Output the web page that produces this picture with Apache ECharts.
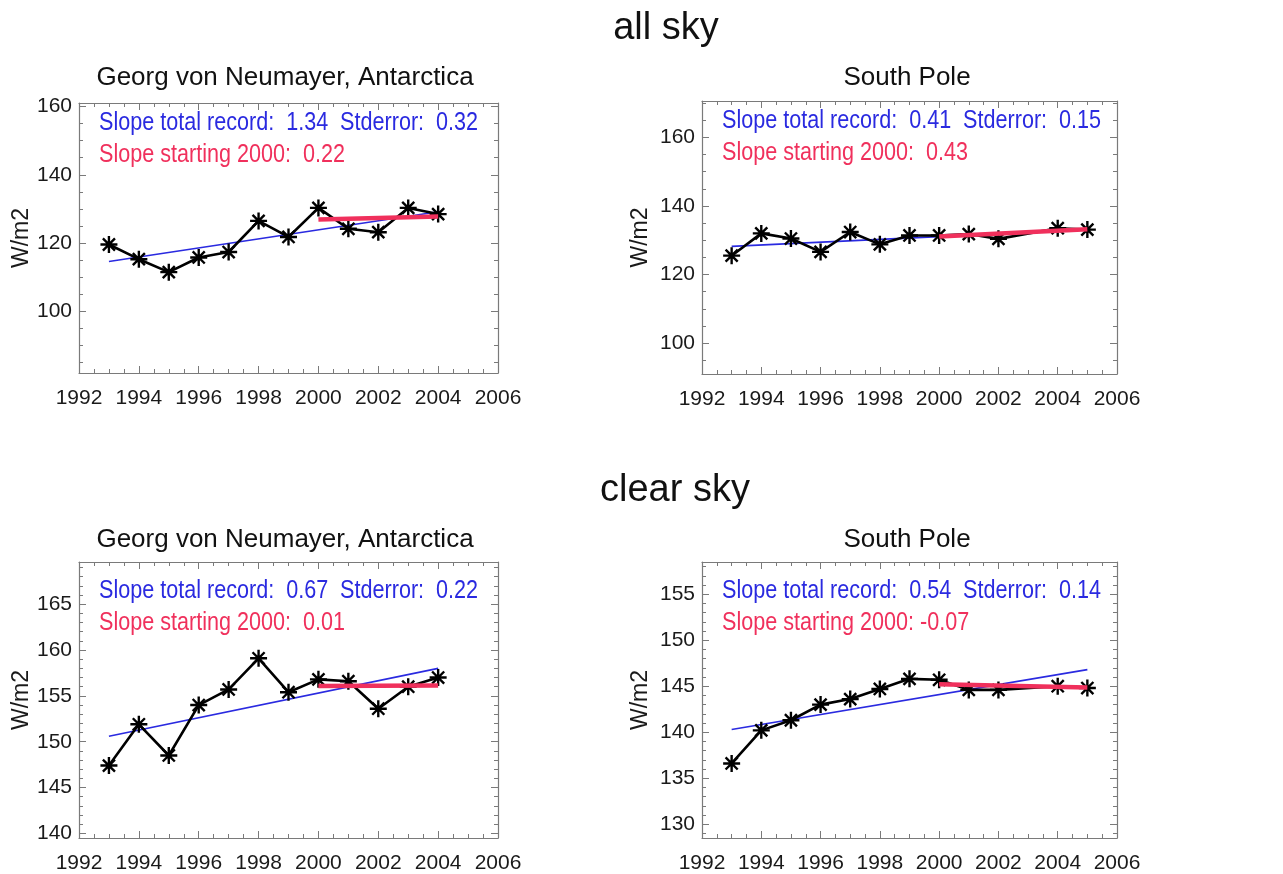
<!DOCTYPE html>
<html>
<head>
<meta charset="utf-8">
<title>all sky / clear sky</title>
<script src="https://cdn.jsdelivr.net/npm/echarts@6/dist/echarts.min.js"></script>
<style>
html, body { margin: 0; padding: 0; background: #fff; }
#chart { width: 1283px; height: 874px; }
</style>
</head>
<body>
<div id="chart"></div>
<script>
// years with data (South Pole has no 2003 value)
var gvnYears = [1993, 1994, 1995, 1996, 1997, 1998, 1999, 2000, 2001, 2002, 2003, 2004];
var spoYears = [1993, 1994, 1995, 1996, 1997, 1998, 1999, 2000, 2001, 2002, 2004, 2005];

// yearly means, W/m2
var gvnAllSky = [119.6, 115.3, 111.5, 115.8, 117.4, 126.5, 121.8, 130.3, 124.2, 123.2, 130.3, 128.5];
var spoAllSky = [125.5, 132.0, 130.5, 126.6, 132.4, 128.8, 131.4, 131.4, 131.8, 130.4, 133.5, 133.1];
var gvnClearSky = [147.4, 151.9, 148.5, 154.0, 155.7, 159.1, 155.4, 156.8, 156.6, 153.6, 156.0, 157.0];
var spoClearSky = [136.6, 140.2, 141.3, 143.0, 143.6, 144.7, 145.8, 145.7, 144.6, 144.6, 145.0, 144.8];

// fitted lines: [start, end] values
var gvnFitYears = [1993, 2004];
var spoFitYears = [1993, 2005];
var gvnFit2000Years = [2000, 2004];
var spoFit2000Years = [2000, 2005];
var gvnAllFit = [114.6, 129.2];
var gvnAllFit2000 = [126.9, 127.8];
var spoAllFit = [128.2, 133.1];
var spoAllFit2000 = [131.1, 133.2];
var gvnClearFit = [150.6, 158.0];
var gvnClearFit2000 = [156.08, 156.12];
var spoClearFit = [140.3, 146.8];
var spoClearFit2000 = [145.2, 144.85];

// tick labels
var allSkyTicks = [100, 120, 140, 160];
var clearGvnTicks = [140, 145, 150, 155, 160, 165];
var clearSpoTicks = [130, 135, 140, 145, 150, 155];

var slopeTexts = [
  ["Slope total record:  1.34  Stderror:  0.32", "Slope starting 2000:  0.22"],
  ["Slope total record:  0.41  Stderror:  0.15", "Slope starting 2000:  0.43"],
  ["Slope total record:  0.67  Stderror:  0.22", "Slope starting 2000:  0.01"],
  ["Slope total record:  0.54  Stderror:  0.14", "Slope starting 2000: -0.07"]
];

var FONT = "'Liberation Sans', Arial, Helvetica, sans-serif";
var BOX = "#7a7a7a";
var BLUE = "#2a2ae0";
var RED = "#f0305c";
var STAR = "path://M-1.4,-10L1.4,-10L1.4,10L-1.4,10Z M-10,-1.4L10,-1.4L10,1.4L-10,1.4Z M-8.1,-6.1L-6.1,-8.1L8.1,6.1L6.1,8.1Z M6.1,-8.1L8.1,-6.1L-6.1,8.1L-8.1,6.1Z";

var panels = [
  { grid: { left: 79, top: 103, width: 419, height: 270 }, yMin: 82, yMax: 161, ticks: allSkyTicks, minorStep: 5, nameGap: 45,
    years: gvnYears, vals: gvnAllSky, fitX: gvnFitYears, fit: gvnAllFit, fit2X: gvnFit2000Years, fit2: gvnAllFit2000 },
  { grid: { left: 702, top: 101, width: 415, height: 273 }, yMin: 91, yMax: 170.6, ticks: allSkyTicks, minorStep: 5, nameGap: 50,
    years: spoYears, vals: spoAllSky, fitX: spoFitYears, fit: spoAllFit, fit2X: spoFit2000Years, fit2: spoAllFit2000 },
  { grid: { left: 79, top: 562, width: 419, height: 276 }, yMin: 139.5, yMax: 169.6, ticks: clearGvnTicks, minorStep: 1, nameGap: 45,
    years: gvnYears, vals: gvnClearSky, fitX: gvnFitYears, fit: gvnClearFit, fit2X: gvnFit2000Years, fit2: gvnClearFit2000 },
  { grid: { left: 702, top: 562, width: 415, height: 276 }, yMin: 128.5, yMax: 158.5, ticks: clearSpoTicks, minorStep: 1, nameGap: 50,
    years: spoYears, vals: spoClearSky, fitX: spoFitYears, fit: spoClearFit, fit2X: spoFit2000Years, fit2: spoClearFit2000 }
];

function pairs(xs, ys) {
  return xs.map(function (x, i) { return [x, ys[i]]; });
}

function minorValues(p) {
  var out = [];
  var start = Math.ceil(p.yMin / p.minorStep) * p.minorStep;
  for (var v = start; v <= p.yMax; v += p.minorStep) {
    if (p.ticks.indexOf(v) < 0) out.push(v);
  }
  return out;
}

function plain(v) { return String(v); }

var grids = [], xAxes = [], yAxes = [], series = [], graphics = [];

panels.forEach(function (p, gi) {
  grids.push(p.grid);

  ["bottom", "top"].forEach(function (pos) {
    xAxes.push({
      gridIndex: gi, type: "value", position: pos,
      min: 1992, max: 2006, interval: 2,
      axisLine: { show: true, onZero: false, lineStyle: { color: BOX, width: 1.2 } },
      axisTick: { show: true, inside: true, length: 7, lineStyle: { color: BOX } },
      minorTick: { show: true, splitNumber: 4, length: 4, lineStyle: { color: BOX } },
      axisLabel: { show: pos === "bottom", formatter: plain, margin: 15, fontSize: 21, color: "#1a1a1a", fontFamily: FONT },
      splitLine: { show: false }
    });
  });

  var minors = minorValues(p);
  ["left", "right"].forEach(function (pos) {
    yAxes.push({
      gridIndex: gi, type: "value", position: pos, min: p.yMin, max: p.yMax,
      name: pos === "left" ? "W/m2" : "", nameLocation: "middle", nameGap: p.nameGap,
      nameTextStyle: { fontSize: 23, color: "#1a1a1a", fontFamily: FONT },
      axisLine: { show: true, onZero: false, lineStyle: { color: BOX, width: 1.2 } },
      axisTick: { show: true, inside: true, length: 7, customValues: p.ticks, lineStyle: { color: BOX } },
      axisLabel: { show: pos === "left", customValues: p.ticks, formatter: plain, margin: 7, fontSize: 21, color: "#1a1a1a", fontFamily: FONT },
      splitLine: { show: false }
    });
    yAxes.push({
      gridIndex: gi, type: "value", position: pos, min: p.yMin, max: p.yMax,
      axisLine: { show: false },
      axisTick: { show: true, inside: true, length: 4, customValues: minors, lineStyle: { color: BOX } },
      axisLabel: { show: false },
      splitLine: { show: false }
    });
  });

  series.push({
    type: "line", xAxisIndex: gi * 2, yAxisIndex: gi * 4, z: 2,
    data: pairs(p.fitX, p.fit), symbol: "none",
    lineStyle: { color: BLUE, width: 1.6 }
  });
  series.push({
    type: "line", xAxisIndex: gi * 2, yAxisIndex: gi * 4, z: 3,
    data: pairs(p.years, p.vals), symbol: STAR, symbolSize: 17,
    lineStyle: { color: "#000", width: 2.6 }, itemStyle: { color: "#000" }
  });
  series.push({
    type: "line", xAxisIndex: gi * 2, yAxisIndex: gi * 4, z: 5,
    data: pairs(p.fit2X, p.fit2), symbol: "none",
    lineStyle: { color: RED, width: 4.5 }
  });

  // slope annotations, squeezed horizontally like the original lettering
  var tx = p.grid.left + 20;
  var ty = p.grid.top + (gi < 2 ? 20 : 29);
  graphics.push({ type: "text", x: tx, y: ty, scaleX: 0.83, style: { text: slopeTexts[gi][0], font: "26px " + FONT, fill: BLUE, textVerticalAlign: "middle" } });
  graphics.push({ type: "text", x: tx, y: ty + 32, scaleX: 0.83, style: { text: slopeTexts[gi][1], font: "26px " + FONT, fill: RED, textVerticalAlign: "middle" } });
});

var titles = [
  ["all sky", 666, 29, 38],
  ["clear sky", 675, 491, 38],
  ["Georg von Neumayer, Antarctica", 285, 78, 26],
  ["South Pole", 907, 78, 26],
  ["Georg von Neumayer, Antarctica", 285, 540, 26],
  ["South Pole", 907, 540, 26]
];
titles.forEach(function (t) {
  graphics.push({ type: "text", x: t[1], y: t[2], style: { text: t[0], font: t[3] + "px " + FONT, fill: "#111", textAlign: "center", textVerticalAlign: "middle" } });
});

var chart = echarts.init(document.getElementById("chart"));
chart.setOption({
  backgroundColor: "#fff",
  animation: false,
  grid: grids,
  xAxis: xAxes,
  yAxis: yAxes,
  series: series,
  graphic: graphics
});
</script>
</body>
</html>
